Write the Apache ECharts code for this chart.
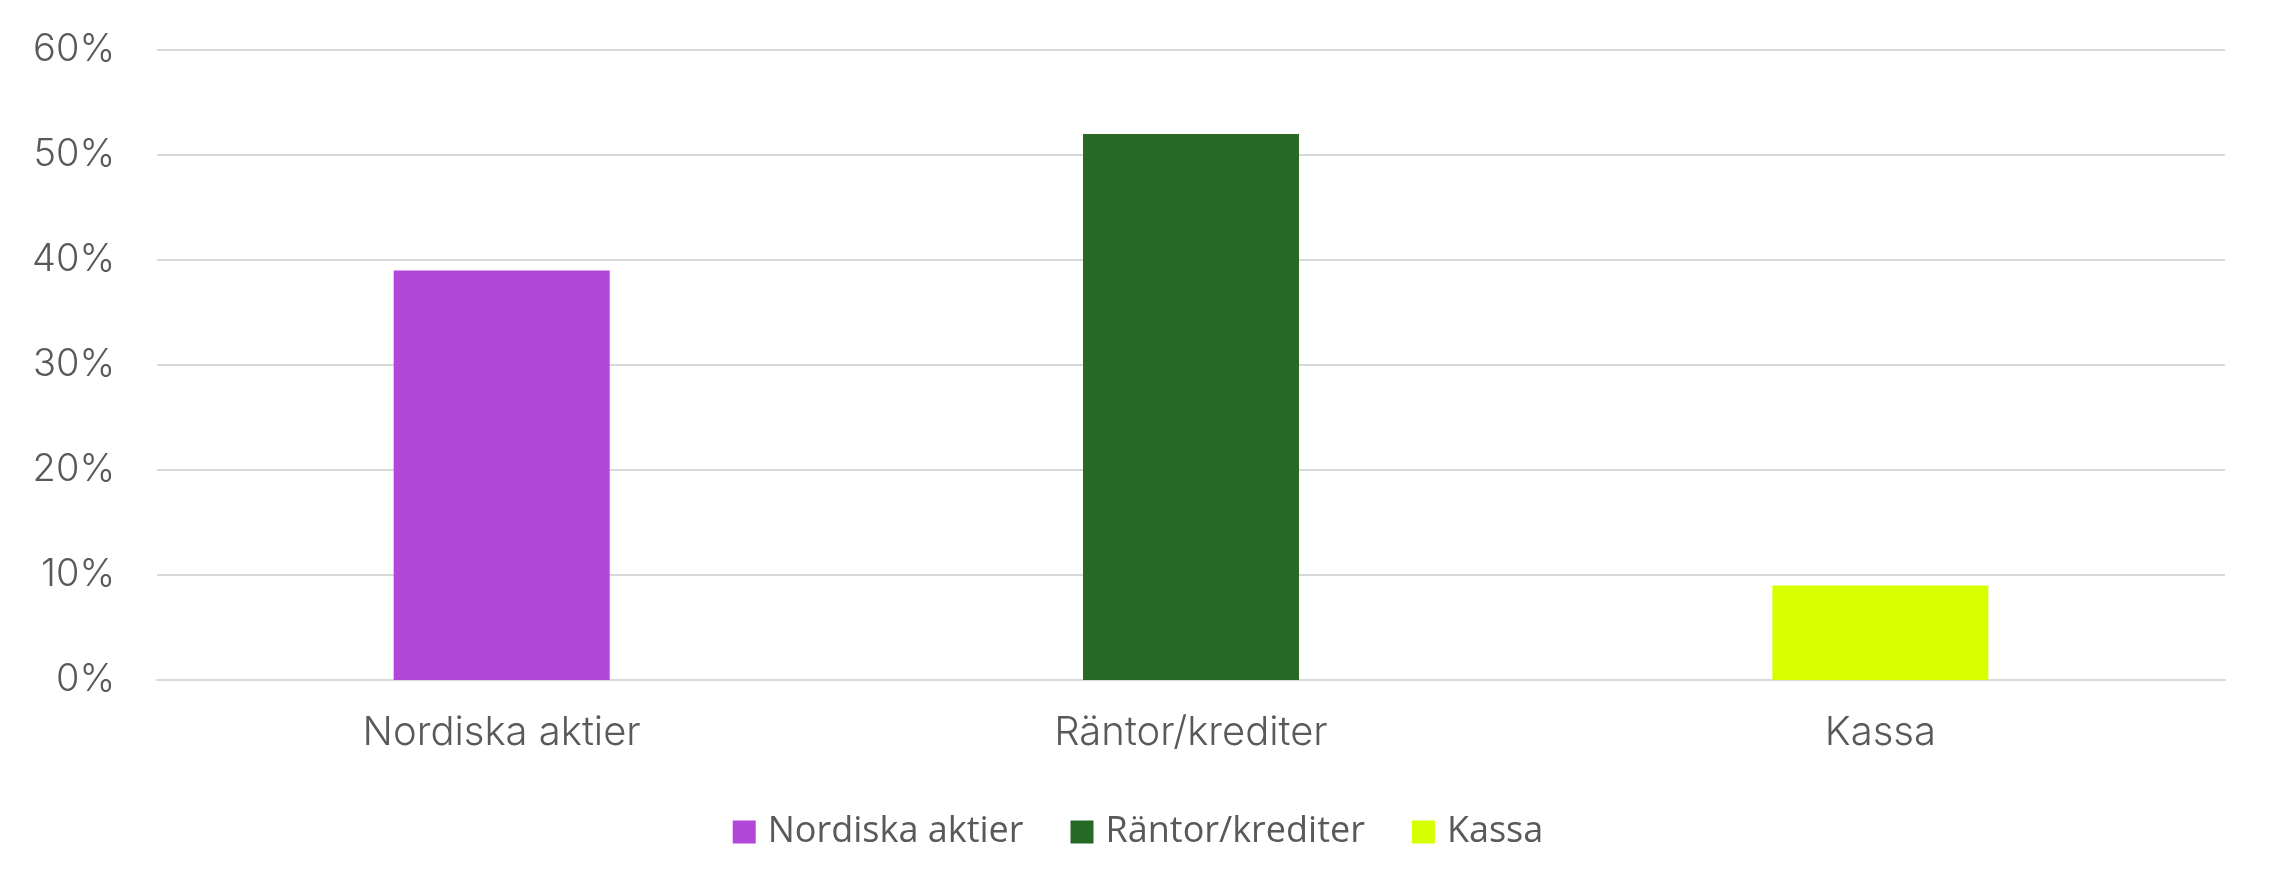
<!DOCTYPE html>
<html>
<head>
<meta charset="utf-8">
<script src="https://cdn.jsdelivr.net/npm/echarts@6/dist/echarts.min.js"></script>
<style>
html,body{margin:0;padding:0;background:#fff;}
#chart{width:2276px;height:896px;}
</style>
</head>
<body>
<div id="chart"></div>
<script>
const categories = ['Nordiska aktier', 'Räntor/krediter', 'Kassa'];
const values = [39, 52, 9];
const colors = ['#B146D8', '#276A27', '#D8FF00'];
const yTicks = { min: 0, max: 60, interval: 10 };

const chart = echarts.init(document.getElementById('chart'), null, { renderer: 'canvas' });

const series = categories.map((name, i) => ({
  name: name,
  type: 'bar',
  barWidth: 216,
  barGap: '-100%',
  itemStyle: { color: colors[i] },
  data: categories.map((c, j) => (j === i ? values[i] : '-'))
}));

chart.setOption({
  animation: false,
  backgroundColor: '#ffffff',
  color: colors,
  grid: { left: 157, right: 51, top: 50, bottom: 216, containLabel: false },
  legend: {
    data: categories,
    top: 809,
    left: 'center',
    itemWidth: 23,
    itemHeight: 23,
    itemGap: 47,
    icon: 'rect',
    textStyle: { fontFamily: 'Open Sans', fontSize: 36, lineHeight: 36, color: '#595959', padding: [0, 0, 0, 7] }
  },
  xAxis: {
    type: 'category',
    data: categories,
    axisTick: { show: false },
    axisLine: { show: true, lineStyle: { color: '#D9D9D9', width: 2 } },
    axisLabel: { fontFamily: 'Inter', fontWeight: 300, fontSize: 40, color: '#595959', margin: 33 }
  },
  yAxis: {
    type: 'value',
    min: yTicks.min,
    max: yTicks.max,
    interval: yTicks.interval,
    axisLine: { show: false },
    axisTick: { show: false },
    splitLine: { lineStyle: { color: '#D9D9D9', width: 2 } },
    axisLabel: { fontFamily: 'Inter', fontWeight: 300, fontSize: 38, color: '#595959', margin: 42, formatter: '{value}%' }
  },
  series: series
});
</script>
</body>
</html>
